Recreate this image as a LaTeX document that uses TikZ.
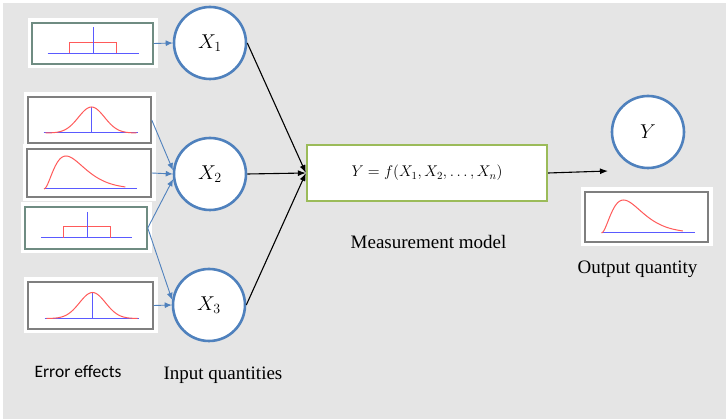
\documentclass[tikz,border=0pt]{standalone}
\usepackage{fix-cm}
\usepackage{fontspec}
\setmainfont{Liberation Serif}
\newfontfamily\calibrifont{Carlito}
\usetikzlibrary{arrows.meta, positioning}

\definecolor{bggrey}{HTML}{E5E5E5}
\definecolor{qblue}{HTML}{4F81BD}
\definecolor{mgreen}{HTML}{9BBB59}
\definecolor{boxgrey}{HTML}{7F7F7F}
\definecolor{boxteal}{HTML}{6F8C82}
\definecolor{pdfred}{HTML}{FF5A5A}
\definecolor{pdfblue}{HTML}{5A5AFF}

% small density sketches, drawn round a box centre
\newcommand{\drawuniform}[1]{%
  \begin{scope}[shift={(#1.center)}, line width=1pt]
    \draw[pdfblue] (-45,10) -- (46,10);
    \draw[pdfred] (-23,10) -- (-23,-1) -- (24,-1) -- (24,10);
    \draw[pdfblue] (1,-16) -- (1,10);
  \end{scope}}
\newcommand{\drawgauss}[1]{%
  \begin{scope}[shift={(#1.center)}, line width=1pt]
    \draw[pdfblue] (-46,13) -- (48,13);
    \draw[pdfblue] (2,-13) -- (2,13);
    \draw[pdfred] plot[domain=-44:47, samples=60, smooth]
      (\x, {13-26*exp(-0.5*((\x-2)/13)*((\x-2)/13))});
  \end{scope}}
\newcommand{\drawskew}[1]{%
  \begin{scope}[shift={(#1.center)}, line width=1pt]
    \draw[pdfblue] (-45,16) -- (48,16);
    \draw[pdfred] plot[domain=0:3.7, samples=60, smooth]
      ({-45+22*\x}, {16-33*\x*\x*exp(2*(1-\x))});
  \end{scope}}

\begin{document}
\begin{tikzpicture}[
    x=1pt, y=-1pt,
    font=\fontsize{19}{22}\selectfont,
    distbox/.style={draw=boxgrey, line width=1.5pt, fill=white, inner sep=0pt,
                    preaction={draw=white, line width=9pt}},
    qcirc/.style={circle, draw=qblue, line width=2.6pt, fill=white, minimum size=72pt,
                  inner sep=0pt, font=\fontsize{20}{24}\selectfont},
    modelbox/.style={draw=mgreen, line width=2.2pt, fill=white, minimum width=240pt,
                     minimum height=56pt, font=\fontsize{15.5}{18}\selectfont},
    lbl/.style={anchor=base, inner sep=0pt},
    barr/.style={-{Latex[length=7pt,width=6pt]}, draw=qblue, line width=0.9pt},
    karr/.style={-{Latex[length=8pt,width=6pt]}, draw=black, line width=1.1pt}
]
\useasboundingbox (0,0) rectangle (726,419);
\fill[white] (0,0) rectangle (726,419);
\fill[bggrey] (3,3) rectangle (726,419);

% error effects
\node[distbox, draw=boxteal, minimum width=121pt, minimum height=41pt] (b1) at (92.5,43.5) {};
\node[distbox, minimum width=123pt, minimum height=46pt] (b2) at (89.5,120) {};
\node[distbox, minimum width=124pt, minimum height=48pt] (b3) at (89,173) {};
\node[distbox, draw=boxteal, minimum width=122pt, minimum height=42pt] (b4) at (86,228) {};
\node[distbox, minimum width=125pt, minimum height=47pt] (b5) at (90.5,305.5) {};
\drawuniform{b1}
\drawgauss{b2}
\drawskew{b3}
\drawuniform{b4}
\drawgauss{b5}

% input quantities
\node[qcirc] (X1) at (210,43) {$X_1$};
\node[qcirc] (X2) at (210,174) {$X_2$};
\node[qcirc] (X3) at (209,305) {$X_3$};

\draw[barr] (b1.east) -- (X1.west);
\draw[barr] (b2.east) -- (X2.174);
\draw[barr] (b3.east) -- (X2.west);
\draw[barr] (b4.east) -- (X2.188);
\draw[barr] (b4.east) -- (X3.172);
\draw[barr] (b5.east) -- (X3.west);

% measurement model
\node[modelbox] (model) at (427,173) {$Y = f(X_1,X_2,\ldots,X_n)$};
\draw[karr] (X1.east) -- (model.west);
\draw[karr] (X2.east) -- (model.west);
\draw[karr] (X3.east) -- (model.west);

% output quantity
\node[qcirc] (Y) at (648,132) {$Y$};
\node[distbox, minimum width=123pt, minimum height=50pt] (out) at (646.5,217) {};
\drawskew{out}
\coordinate (yin) at (608,171);
\draw[karr] (model.east) -- (yin);

\node[lbl, font=\calibrifont\fontsize{17.5}{20}\selectfont] (errlbl) at (78,378) {Error effects};
\node[lbl] (inlbl) at (223,380) {Input quantities};
\node[lbl] (modlbl) at (428.5,249) {Measurement model};
\node[lbl] (outlbl) at (637.5,274) {Output quantity};
\end{tikzpicture}
\end{document}
